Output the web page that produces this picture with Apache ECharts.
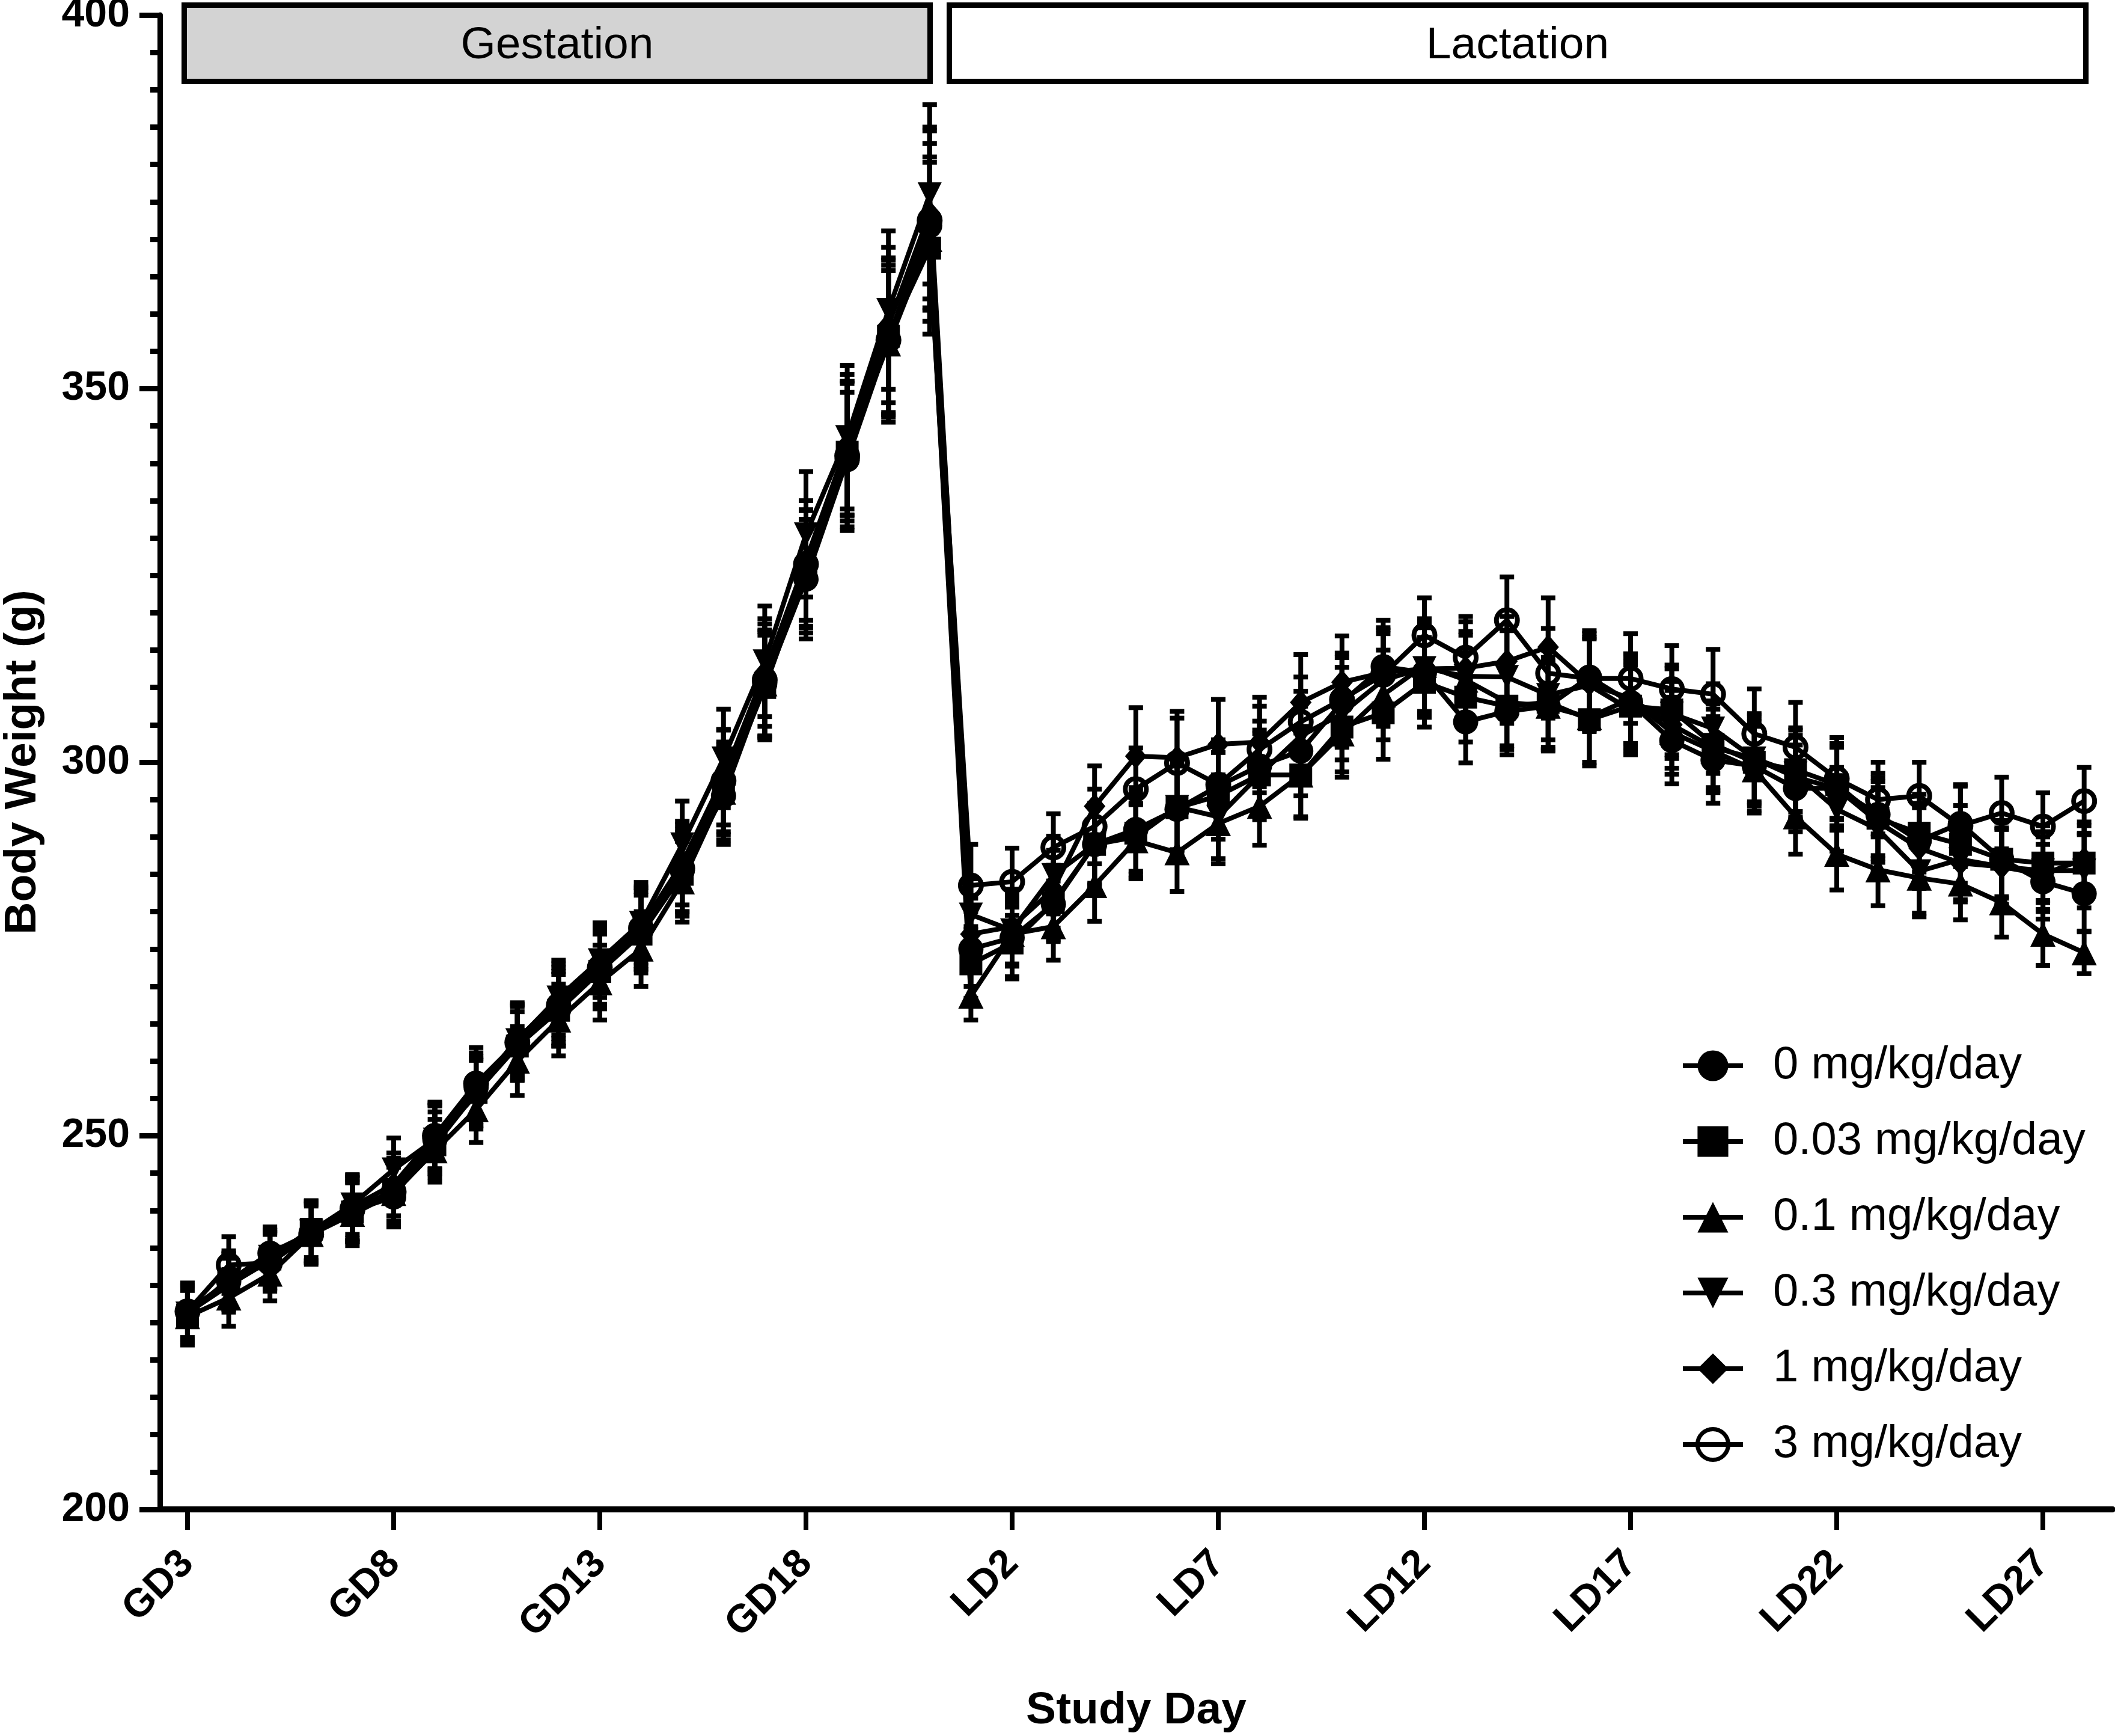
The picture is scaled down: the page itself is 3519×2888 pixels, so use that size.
<!DOCTYPE html>
<html><head><meta charset="utf-8">
<script src="https://cdn.jsdelivr.net/npm/echarts@6/dist/echarts.min.js"></script>
<style>html,body{margin:0;padding:0;background:#fff}#c{width:3519px;height:2888px}</style>
</head><body><div id="c"></div>
<script>
// ---------- DATA ----------
const days = ['GD3','GD4','GD5','GD6','GD7','GD8','GD9','GD10','GD11','GD12','GD13','GD14','GD15','GD16','GD17','GD18','GD19','GD20','GD21',
  'LD1','LD2','LD3','LD4','LD5','LD6','LD7','LD8','LD9','LD10','LD11','LD12','LD13','LD14','LD15','LD16','LD17','LD18','LD19','LD20','LD21','LD22','LD23','LD24','LD25','LD26','LD27','LD28'];
const tickDays = ['GD3','GD8','GD13','GD18','LD2','LD7','LD12','LD17','LD22','LD27'];
const seriesNames = ['0 mg/kg/day','0.03 mg/kg/day','0.1 mg/kg/day','0.3 mg/kg/day','1 mg/kg/day','3 mg/kg/day'];

const bw_0 = [226.5,230.5,234.3,237.0,240.0,241.8,249.5,256.5,262.5,267.5,272.5,277.5,285.5,295.5,310.5,324.5,340.5,356.5,371.8,
  275.0,276.5,281.0,289.0,291.0,293.7,296.8,299.5,301.5,308.0,312.8,312.0,305.4,306.8,307.5,311.4,308.0,302.9,300.3,299.5,296.5,296.5,293.0,289.5,291.8,287.0,284.0,282.4];
const bw_003 = [226.0,230.8,233.5,237.5,239.8,242.8,248.8,255.8,262.0,266.8,272.0,277.0,285.0,296.5,310.0,325.5,341.5,357.0,368.8,
  273.0,275.8,281.2,289.0,290.5,293.9,295.5,298.3,298.3,304.7,306.6,310.7,308.7,307.5,308.0,305.7,307.5,307.0,302.4,300.0,299.0,297.0,292.5,290.5,289.0,287.0,286.5,286.5];
const bw_01 = [225.8,228.3,231.5,236.8,239.5,242.3,248.0,253.5,260.0,265.5,270.5,275.0,284.0,296.0,310.5,326.0,342.0,356.0,370.0,
  268.7,277.0,278.0,283.5,289.5,287.9,291.8,294.1,298.3,303.8,309.0,313.0,311.0,308.0,307.5,306.0,308.5,304.0,301.5,299.0,292.7,287.7,285.6,284.5,283.7,281.2,277.0,274.5];
const bw_03 = [226.2,230.5,233.8,237.2,240.8,245.5,249.5,255.5,262.8,268.5,273.5,278.5,289.0,300.5,313.5,330.5,343.5,360.5,376.0,
  279.6,277.5,284.9,289.0,290.0,294.0,292.7,298.3,303.5,306.5,311.0,312.6,311.5,311.4,309.0,310.3,307.0,306.5,304.5,300.5,298.5,293.7,291.0,285.4,287.0,286.0,285.5,285.5];
const bw_1 = [226.3,230.0,233.3,237.3,240.5,243.5,250.0,256.0,263.0,268.0,272.8,278.0,286.5,298.0,312.0,327.0,342.5,358.5,373.5,
  277.0,278.0,283.0,294.1,300.8,300.6,302.4,302.7,308.0,310.7,312.0,312.5,312.6,313.5,315.4,310.5,308.5,305.0,302.0,300.5,298.0,296.5,292.0,288.5,286.5,286.0,285.0,287.0];
const bw_3 = [226.5,232.7,233.0,236.8,240.2,242.5,250.0,257.0,262.5,267.0,272.5,277.8,285.8,297.5,311.0,326.5,341.0,356.5,372.5,
  283.5,284.0,288.6,291.4,296.4,299.9,297.0,301.7,305.4,308.4,311.7,317.0,314.0,319.0,311.9,311.2,311.2,309.8,309.1,303.8,302.0,297.8,295.0,295.5,291.5,293.2,291.4,294.8];

const sd_0 = [3.8,3.6,3.5,4.0,4.2,4.0,4.5,4.6,4.8,5.0,5.0,5.2,5.5,6.5,7.2,8.0,9.0,10.0,11.0,
  5.0,5.2,5.0,5.5,5.6,5.8,5.8,6.0,6.0,6.0,6.2,6.0,5.5,5.8,6.0,6.2,6.0,5.8,5.8,6.0,5.8,5.5,5.5,5.0,5.0,5.2,5.0,5.0];
const sd_003 = [4.0,3.8,3.8,3.8,4.0,4.2,4.4,4.5,4.6,4.8,5.0,5.2,5.6,6.2,7.0,8.2,9.2,10.2,11.5,
  4.6,4.8,5.0,5.2,5.5,5.6,5.8,5.5,5.8,6.0,6.2,6.0,6.0,5.8,6.0,6.2,6.0,6.0,5.8,5.8,5.6,5.5,5.4,5.2,5.2,5.0,5.0,5.0];
const sd_01 = [3.5,3.8,3.6,3.8,4.2,4.0,4.2,4.4,4.6,4.8,5.0,5.0,5.4,6.4,7.0,7.8,9.0,9.8,11.0,
  3.2,4.2,4.5,4.8,5.0,5.2,5.4,5.2,5.6,5.8,6.0,6.2,6.0,5.8,5.8,6.0,6.0,5.6,5.6,5.8,5.0,4.8,4.8,5.2,4.8,4.6,4.2,2.8];
const sd_03 = [3.8,3.8,3.6,4.0,4.0,4.2,4.6,4.6,4.8,5.0,5.0,5.4,5.8,6.6,7.4,8.4,9.6,10.6,12.0,
  4.8,4.8,5.2,5.4,5.6,5.8,5.6,6.0,6.0,6.2,6.2,6.2,6.0,6.2,6.0,6.2,6.0,6.0,6.0,6.0,5.8,5.6,5.6,5.6,5.4,5.2,5.2,5.0];
const sd_1 = [3.6,3.6,3.8,4.0,4.2,4.2,4.4,4.6,4.8,5.0,5.2,5.2,5.6,6.4,7.2,8.0,9.4,10.4,11.5,
  4.8,5.0,5.2,5.4,6.5,6.2,6.0,6.0,6.4,6.2,6.0,6.0,6.2,6.0,6.6,6.2,6.0,5.8,5.8,5.8,5.6,5.6,5.4,5.4,5.2,5.0,5.0,5.0];
const sd_3 = [3.5,3.8,3.8,4.0,4.2,4.4,4.5,4.8,5.0,5.0,5.5,5.5,5.8,6.8,7.5,8.5,10.0,11.0,12.0,
  5.5,4.5,4.5,5.0,5.5,6.0,6.0,5.8,6.0,6.2,6.0,5.0,5.5,5.8,6.0,6.0,6.0,5.8,6.0,6.0,6.0,5.5,5.0,4.5,5.5,4.8,4.5,4.5];

// ---------- CHART ----------
const FONT = 'Liberation Sans, Arial, Helvetica, sans-serif';
const groups = [
  {name: seriesNames[0], vals: bw_0,   sd: sd_0,   symbol: 'circle',   size: 42, rot: 0,   fill: '#000'},
  {name: seriesNames[1], vals: bw_003, sd: sd_003, symbol: 'rect',     size: 38, rot: 0,   fill: '#000'},
  {name: seriesNames[2], vals: bw_01,  sd: sd_01,  symbol: 'triangle', size: 42, rot: 0,   fill: '#000'},
  {name: seriesNames[3], vals: bw_03,  sd: sd_03,  symbol: 'triangle', size: 40, rot: 180, fill: '#000'},
  {name: seriesNames[4], vals: bw_1,   sd: sd_1,   symbol: 'diamond',  size: [36, 42], rot: 0, fill: '#000'},
  {name: seriesNames[5], vals: bw_3,   sd: sd_3,   symbol: 'circle',   size: 35, rot: 0,   fill: 'rgba(0,0,0,0)', border: 8}
];

const series = [];
groups.forEach(g => {
  series.push({
    type: 'custom', name: g.name + ' SD', silent: true, z: 2,
    data: g.vals.map((v, i) => [i, v - g.sd[i], v + g.sd[i]]),
    encode: {x: 0, y: [1, 2]},
    renderItem: function (params, api) {
      const x = api.value(0);
      const lo = api.coord([x, api.value(1)]);
      const hi = api.coord([x, api.value(2)]);
      const hw = 12;
      const st = {stroke: '#000', lineWidth: 8, fill: null};
      return {type: 'group', children: [
        {type: 'line', shape: {x1: lo[0], y1: lo[1], x2: hi[0], y2: hi[1]}, style: st},
        {type: 'line', shape: {x1: lo[0] - hw, y1: lo[1], x2: lo[0] + hw, y2: lo[1]}, style: st},
        {type: 'line', shape: {x1: hi[0] - hw, y1: hi[1], x2: hi[0] + hw, y2: hi[1]}, style: st}
      ]};
    }
  });
});
groups.forEach(g => {
  series.push({
    type: 'line', name: g.name, z: 3,
    data: g.vals.map((v, i) => [i, v]),
    symbol: g.symbol, symbolSize: g.size, symbolRotate: g.rot, showSymbol: true,
    lineStyle: {color: '#000', width: 8},
    itemStyle: {color: g.fill, borderColor: '#000', borderWidth: g.border || 0},
    emphasis: {disabled: true}
  });
});

const tickIdx = tickDays.map(d => days.indexOf(d));

const option = {
  animation: false,
  backgroundColor: '#fff',
  grid: {left: 266, right: 4, top: 25, bottom: 377, containLabel: false, outerBoundsMode: 'none'},
  xAxis: {
    type: 'value', min: -0.67, max: 46.69,
    name: 'Study Day', nameLocation: 'middle', nameGap: 298,
    nameTextStyle: {fontFamily: FONT, fontWeight: 'bold', fontSize: 75, color: '#000'},
    axisLine: {show: true, onZero: false, lineStyle: {color: '#000', width: 10}},
    axisTick: {show: true, customValues: tickIdx, length: 34, inside: false, lineStyle: {color: '#000', width: 8}},
    axisLabel: {show: true, customValues: tickIdx, rotate: 45, margin: 80,
      fontFamily: FONT, fontWeight: 'bold', fontSize: 66, color: '#000',
      formatter: v => days[Math.round(v)]},
    splitLine: {show: false}
  },
  yAxis: {
    type: 'value', min: 200, max: 400, interval: 50,
    name: 'Body Weight (g)', nameLocation: 'middle', nameGap: 190,
    nameTextStyle: {fontFamily: FONT, fontWeight: 'bold', fontSize: 75, color: '#000'},
    axisLine: {show: true, onZero: false, lineStyle: {color: '#000', width: 9}},
    axisTick: {show: true, length: 34, lineStyle: {color: '#000', width: 9}},
    minorTick: {show: true, splitNumber: 10, length: 16, lineStyle: {color: '#000', width: 9}},
    axisLabel: {margin: 50, fontFamily: FONT, fontWeight: 'bold', fontSize: 68, color: '#000'},
    splitLine: {show: false}, minorSplitLine: {show: false}
  },
  legend: {
    orient: 'vertical', left: 2791, top: 1730,
    itemWidth: 100, itemHeight: 64, itemGap: 50,
    lineStyle: {width: 8, color: '#000'},
    textStyle: {fontFamily: FONT, fontSize: 76, color: '#000', padding: [0, 0, 0, 45]},
    data: groups.map(g => g.border
      ? {name: g.name, itemStyle: {color: 'rgba(0,0,0,0)', borderColor: '#000', borderWidth: 7}}
      : {name: g.name}),
    selectedMode: false
  },
  graphic: [
    {type: 'rect', shape: {x: 306.5, y: 8.5, width: 1241, height: 127},
      style: {fill: '#d3d3d3', stroke: '#000', lineWidth: 9}, z: 10},
    {type: 'text', x: 927, y: 76, style: {text: 'Gestation', fontFamily: FONT, fontSize: 75, fill: '#000', align: 'center', verticalAlign: 'middle'}, z: 11},
    {type: 'rect', shape: {x: 1579.5, y: 8.5, width: 1891, height: 127},
      style: {fill: '#fff', stroke: '#000', lineWidth: 9}, z: 10},
    {type: 'text', x: 2525, y: 76, style: {text: 'Lactation', fontFamily: FONT, fontSize: 75, fill: '#000', align: 'center', verticalAlign: 'middle'}, z: 11}
  ],
  series: series
};

const chart = echarts.init(document.getElementById('c'), null, {renderer: 'canvas'});
chart.setOption(option);
</script>
</body></html>
